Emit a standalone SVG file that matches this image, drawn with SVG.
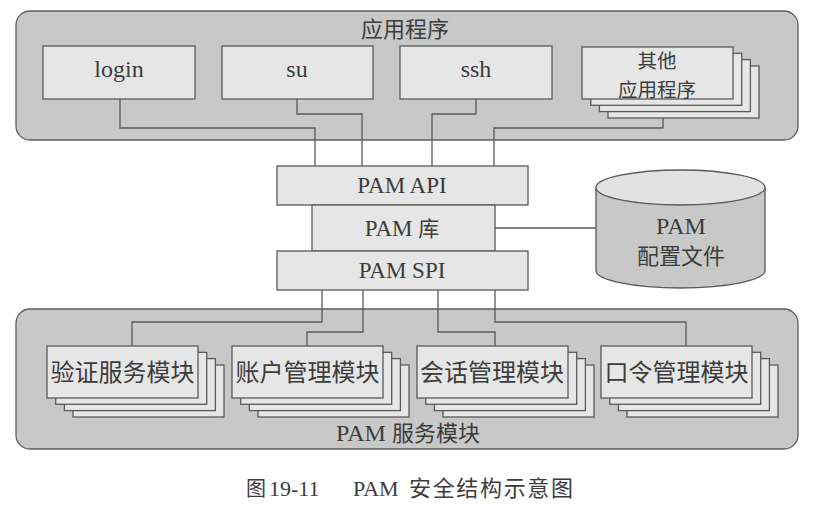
<svg xmlns="http://www.w3.org/2000/svg" width="814" height="510" viewBox="0 0 814 510">
  <style>
    .grp { fill: #c8c8c8; stroke: #5e5e5e; stroke-width: 1.3; }
    .box { fill: #e6e6e6; stroke: #5a5a5a; stroke-width: 1.3; }
    .conn { fill: none; stroke: #5a5a5a; stroke-width: 1.3; }
    .t { font-family: 'Liberation Serif', 'Noto Sans CJK SC', serif; fill: #3c3c3c; text-anchor: middle; }
    .c { font-family: 'Noto Sans CJK SC', 'Liberation Serif', sans-serif; fill: #3c3c3c; text-anchor: middle; }
    .cap { font-family: 'Liberation Serif', 'Noto Sans CJK SC', serif; fill: #3c3c3c; }
    .cj { font-family: 'Noto Sans CJK SC', 'Liberation Serif', sans-serif; }
  </style>
  <defs>
    <rect id="appbox" width="151" height="52"/>
    <rect id="modbox" width="151" height="52"/>
  </defs>
  <rect width="814" height="510" fill="#ffffff"/>

  <g id="apps-group">
    <rect class="grp" x="16" y="11" width="782" height="129" rx="14"/>
    <text class="c" x="405" y="37" font-size="22">应用程序</text>
  </g>
  <g id="services-group">
    <rect class="grp" x="16" y="309" width="782" height="140" rx="14"/>
    <text class="t" x="408" y="441" font-size="24">PAM <tspan class="cj" font-size="22">服务模块</tspan></text>
  </g>

  <g id="connectors">
    <path class="conn" d="M120,99 V128 H315 V166"/>
    <path class="conn" d="M297,99 V114 H362 V166"/>
    <path class="conn" d="M476,99 V114 H432 V166"/>
    <path class="conn" d="M663,118 V128 H494 V166"/>
    <path class="conn" d="M495,228 H596"/>
    <path class="conn" d="M322,290 V322 H132 V346"/>
    <path class="conn" d="M363,290 V332 H307 V346"/>
    <path class="conn" d="M438,290 V332 H495 V346"/>
    <path class="conn" d="M495,290 V322 H686 V346"/>
  </g>

  <g id="login">
    <rect class="box" x="43" y="46" width="152" height="53"/>
    <text class="t" x="119" y="77" font-size="24">login</text>
  </g>
  <g id="su">
    <rect class="box" x="222" y="46" width="151" height="53"/>
    <text class="t" x="297" y="77" font-size="24">su</text>
  </g>
  <g id="ssh">
    <rect class="box" x="400" y="46" width="152" height="53"/>
    <text class="t" x="476" y="77" font-size="24">ssh</text>
  </g>
  <g id="other-apps">
    <use href="#appbox" class="box" x="608" y="66"/>
    <use href="#appbox" class="box" x="599.4" y="59.6"/>
    <use href="#appbox" class="box" x="590.7" y="53.3"/>
    <use href="#appbox" class="box" x="582" y="47"/>
    <text class="c" font-size="19.5"><tspan x="657" y="68">其他</tspan><tspan x="657" y="96.5">应用程序</tspan></text>
  </g>

  <g id="pam-api">
    <rect class="box" x="277" y="166" width="251" height="39"/>
    <text class="t" x="402" y="193" font-size="23">PAM API</text>
  </g>
  <g id="pam-lib">
    <rect class="box" x="312" y="205" width="183" height="46"/>
    <text class="t" x="402" y="236" font-size="23">PAM <tspan class="cj" font-size="21">库</tspan></text>
  </g>
  <g id="pam-spi">
    <rect class="box" x="277" y="251" width="251" height="39"/>
    <text class="t" x="402" y="278" font-size="23">PAM SPI</text>
  </g>

  <g id="pam-config">
    <path d="M596,187.5 V270.5 A84.5,17.5 0 0 0 765,270.5 V187.5" fill="#c8c8c8" stroke="#5a5a5a" stroke-width="1.3"/>
    <ellipse cx="680.5" cy="187.5" rx="84.5" ry="17.5" fill="#e2e2e2" stroke="#5a5a5a" stroke-width="1.3"/>
    <text class="t" x="681" y="234" font-size="24">PAM</text>
    <text class="c" x="681" y="264" font-size="22">配置文件</text>
  </g>

  <g id="auth-module">
    <use href="#modbox" class="box" x="73" y="365"/>
    <use href="#modbox" class="box" x="64.4" y="358.6"/>
    <use href="#modbox" class="box" x="55.7" y="352.3"/>
    <use href="#modbox" class="box" x="47" y="346"/>
    <text class="c" x="122.5" y="381" font-size="24">验证服务模块</text>
  </g>
  <g id="account-module">
    <use href="#modbox" class="box" x="258" y="365"/>
    <use href="#modbox" class="box" x="249.4" y="358.6"/>
    <use href="#modbox" class="box" x="240.7" y="352.3"/>
    <use href="#modbox" class="box" x="232" y="346"/>
    <text class="c" x="307.5" y="381" font-size="24">账户管理模块</text>
  </g>
  <g id="session-module">
    <use href="#modbox" class="box" x="443" y="365"/>
    <use href="#modbox" class="box" x="434.4" y="358.6"/>
    <use href="#modbox" class="box" x="425.7" y="352.3"/>
    <use href="#modbox" class="box" x="417" y="346"/>
    <text class="c" x="492" y="381" font-size="24">会话管理模块</text>
  </g>
  <g id="password-module">
    <use href="#modbox" class="box" x="627" y="365"/>
    <use href="#modbox" class="box" x="618.4" y="358.6"/>
    <use href="#modbox" class="box" x="609.7" y="352.3"/>
    <use href="#modbox" class="box" x="601" y="346"/>
    <text class="c" x="676.5" y="381" font-size="24">口令管理模块</text>
  </g>

  <g id="caption">
    <text class="cap" y="496" font-size="22"><tspan class="cj" x="246" font-size="20">图</tspan><tspan x="269">19-11</tspan><tspan x="353">PAM</tspan><tspan class="cj" x="409" textLength="164">安全结构示意图</tspan></text>
  </g>
</svg>
